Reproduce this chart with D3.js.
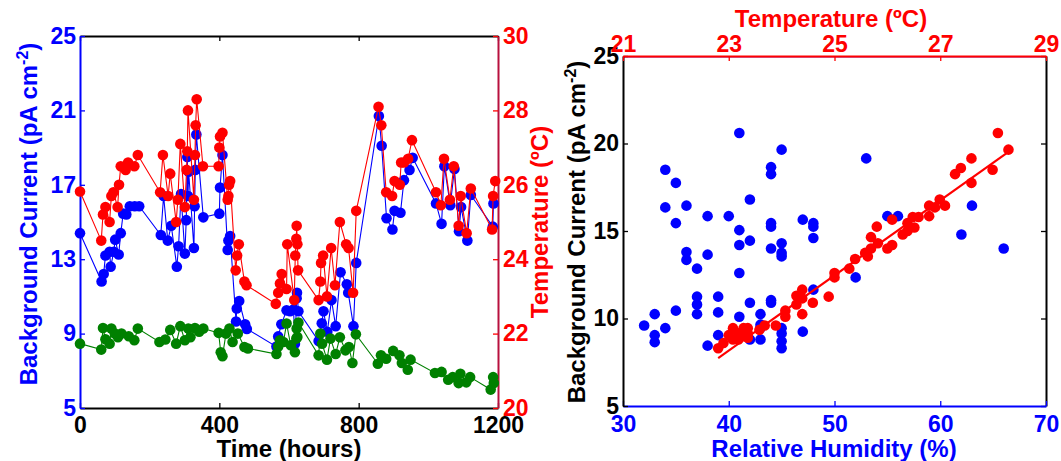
<!DOCTYPE html>
<html><head><meta charset="utf-8">
<script src="https://cdnjs.cloudflare.com/ajax/libs/d3/7.8.5/d3.min.js"></script>
<style>body{margin:0;background:#fff}</style>
</head><body><svg id="c" width="1061" height="461"></svg>
<script>
// ---------- Left chart data ----------
const timeTicks = [0, 400, 800, 1200];
const currentTicksLeft = [5, 9, 13, 17, 21, 25];
const tempTicksRight = [20, 22, 24, 26, 28, 30];

const bgTime = [0,62,68,73,85,88,97,101,111,117,124,133,143,157,170,232,240,252,262,278,283,290,301,305,308,310,312,327,329,331,334,354,400,402,409,424,426,431,448,450,457,474,479,564,569,578,593,603,613,617,622,623,627,685,694,699,710,722,734,748,766,770,785,793,858,866,880,897,903,920,930,946,955,1022,1038,1046,1063,1075,1088,1094,1112,1122,1185,1187];
const bgCurrent = [14.4,11.8,12.2,13.2,13.4,12.6,13.4,14.05,13.25,14.4,15.45,15.4,15.85,15.85,15.85,14.3,16.4,14.0,14.8,12.6,13.7,16.5,13.3,15.1,18.5,16.4,17.7,13.6,15.85,17.8,19.7,15.25,15.45,16.85,18.6,13.5,14.0,14.25,9.65,10.35,10.75,9.5,9.25,8.3,8.85,9.5,10.25,10.2,10.3,8.45,10.9,11.2,10.2,8.6,9.55,10.2,9.1,10.8,9.4,12.3,11.65,11.2,9.4,12.8,20.7,19.1,15.2,14.6,15.6,15.5,17.25,17.8,18.45,16.0,14.9,18.0,15.9,17.85,14.5,15.8,14.0,16.45,14.75,16.0];

const tempTime = [0,61,66,73,85,90,96,108,112,117,131,138,156,166,230,238,253,259,276,281,288,301,306,308,310,327,330,332,335,353,398,400,402,409,424,426,428,431,447,451,456,472,478,562,569,574,579,593,595,615,618,621,622,624,626,685,690,692,698,709,721,732,746,764,771,784,793,857,865,879,896,903,918,922,930,942,953,1022,1036,1045,1062,1073,1087,1093,1110,1122,1183,1186,1192];
const temperature = [25.82,24.5,25.2,25.4,25.0,25.7,25.8,25.4,26.0,26.5,26.4,26.6,26.5,26.8,25.8,26.8,25.7,26.3,25.0,25.6,27.1,25.4,26.4,26.9,28.0,25.6,26.8,27.6,28.3,26.5,26.5,27.0,27.3,27.4,25.6,25.7,26.0,26.1,23.7,24.1,24.4,23.4,23.3,22.8,23.1,23.35,23.6,23.2,24.4,22.9,24.1,24.55,24.9,24.4,23.7,22.9,23.4,23.9,24.1,23.0,24.3,23.3,25.0,24.4,24.3,23.1,25.3,28.1,27.6,25.8,25.7,26.1,26.0,26.6,26.6,26.7,27.2,25.8,25.45,26.7,25.6,26.5,24.9,25.7,24.7,25.9,24.8,25.7,26.1];

const greenTime = [0,61,66,73,85,90,100,109,119,140,156,166,228,245,259,276,288,301,311,317,330,342,354,398,404,409,419,429,438,453,472,482,564,569,574,584,593,605,617,621,622,624,627,685,690,695,709,719,734,746,762,772,782,792,855,864,879,899,917,924,941,949,1019,1038,1057,1070,1087,1092,1109,1120,1179,1186,1188];
const greenValues = [8.46,8.14,9.3,8.7,8.46,9.27,9.0,8.8,9.0,8.86,8.64,9.27,8.55,8.68,9.2,8.46,9.4,8.64,9.27,8.8,9.3,9.1,9.27,9.04,8.0,7.78,9.0,9.27,8.55,9.0,8.28,8.2,7.9,8.3,8.64,8.55,9.54,8.37,8.0,8.73,9.27,8.82,9.6,7.83,9.0,8.46,7.6,8.73,7.9,8.8,8.1,8.28,7.42,8.96,7.38,7.83,7.65,8.07,7.83,7.42,7.06,7.6,6.88,6.94,6.52,6.66,6.34,6.84,6.38,6.66,5.99,6.66,6.34];

// ---------- Right chart data ----------
const rhTicks = [30, 40, 50, 60, 70];
const tempTicksTop = [21, 23, 25, 27, 29];
const currentTicksRight = [5, 10, 15, 20, 25];

const rhBlue = [41,45,34,35,44,44,42,34,36,35,38,40,41,41,42,44,44,44,45,45,45,47,48,48,48,36,36,37,38,41,37,37,37,39,39,35,33,32,33,33,34,38,39,41,42,43,44,44,43,43,43,42,45,45,45,45,47,48,53,55,56,63,62,66,52];
const bgBlue = [20.6,19.65,18.5,17.75,18.65,18.25,16.8,16.35,16.45,15.45,15.85,15.85,15.05,14.2,14.45,15.45,15.25,14.0,14.3,13.75,13.55,15.65,15.45,15.25,14.6,13.8,13.35,12.85,13.65,12.6,11.25,10.8,10.25,11.25,10.35,10.45,10.25,9.6,9.05,8.65,9.45,8.45,9.05,10.1,10.9,10.25,11.05,10.9,9.65,9.45,8.8,8.8,9.45,9.15,8.7,8.3,9.25,11.65,19.15,15.85,15.85,16.45,14.8,14.0,12.35];

const tempRed = [22.8,22.9,23.0,23.08,23.08,23.18,23.18,23.28,23.28,23.36,23.36,23.36,23.58,23.68,23.89,24.07,24.07,24.28,24.28,24.39,24.39,24.39,24.59,24.89,25.0,25.0,25.28,25.39,25.58,25.63,25.69,25.69,25.8,25.82,26.0,26.09,26.09,26.29,26.38,26.38,26.48,26.51,26.59,26.79,26.79,26.9,26.99,27.09,27.28,27.39,27.59,27.59,27.99,28.09,28.29];
const bgRed = [8.3,8.6,9.05,9.45,8.8,9.15,8.8,9.45,9.0,9.45,9.15,8.9,9.35,9.6,9.6,10.45,10.1,11.3,10.8,11.65,11.15,10.25,10.9,11.25,12.6,12.35,12.85,13.4,13.75,13.55,14.0,14.65,15.25,14.3,14.0,14.2,15.65,14.8,15.45,15.0,15.8,15.2,15.8,16.45,15.85,16.35,16.8,16.45,18.25,18.6,19.15,17.75,18.5,20.6,19.65];

const fitSlope = 2.146;
const fitIntercept = -41.19;
const fitRange = [22.8, 28.29];

// ---------- Drawing ----------
const FONT = "Arial, 'Liberation Sans', Helvetica, sans-serif";
const BLUE = "#0000ff", RED = "#ff0000", GREEN = "#008000";
const svg = d3.select("#c");
const tickFS = 23, titleFS = 24, R_DOT = 5.3;
const fmt = d3.format("d");

function styleAxis(g, color, lineColor) {
  g.select("path.domain").attr("stroke", lineColor || color).attr("stroke-width", 2);
  g.selectAll(".tick line").attr("stroke", color).attr("stroke-width", 1.3);
  g.selectAll("text").attr("fill", color).style("font-size", tickFS + "px")
    .style("font-weight", "bold").style("font-family", FONT);
}
function title(x, y, rot, color, parts) {
  const t = svg.append("text").attr("transform", `translate(${x},${y}) rotate(${rot})`)
    .attr("text-anchor", "middle").attr("fill", color)
    .style("font-family", FONT).style("font-weight", "bold").style("font-size", titleFS + "px");
  parts.forEach(p => {
    const s = t.append("tspan").text(p.t);
    if (p.sup) s.attr("dy", -9).style("font-size", "16px");
    if (p.back) s.attr("dy", 9);
  });
}

// Left chart scales
const xL = d3.scaleLinear().domain([0, 1200]).range([80, 498]);
const yL = d3.scaleLinear().domain([5, 25]).range([408, 36]);
const yR = d3.scaleLinear().domain([20, 30]).range([408, 36]);

svg.append("g").attr("transform", "translate(0,36)")
  .call(d3.axisTop(xL).tickValues(timeTicks).tickSizeInner(-5).tickSizeOuter(0).tickFormat(() => ""))
  .call(g => styleAxis(g, "#000"));
svg.append("g").attr("transform", "translate(0,408)")
  .call(d3.axisBottom(xL).tickValues(timeTicks).tickSizeInner(-5).tickSizeOuter(0).tickPadding(9).tickFormat(fmt))
  .call(g => styleAxis(g, "#000"));
svg.append("g").attr("transform", "translate(498,0)")
  .call(d3.axisRight(yR).tickValues(tempTicksRight).tickSizeInner(-5).tickSizeOuter(0).tickPadding(5).tickFormat(fmt))
  .call(g => styleAxis(g, RED, "#b8103e"));
svg.append("g").attr("transform", "translate(80,0)")
  .call(d3.axisLeft(yL).tickValues(currentTicksLeft).tickSizeInner(-5).tickSizeOuter(0).tickPadding(4).tickFormat(fmt))
  .call(g => styleAxis(g, BLUE));

function series(times, vals, yScale, color) {
  const pts = times.map((t, i) => [t, vals[i]]);
  svg.append("path").datum(pts).attr("fill", "none").attr("stroke", color).attr("stroke-width", 1.1)
    .attr("d", d3.line().x(d => xL(d[0])).y(d => yScale(d[1])));
  svg.append("g").selectAll("circle").data(pts).join("circle")
    .attr("cx", d => xL(d[0])).attr("cy", d => yScale(d[1])).attr("r", R_DOT).attr("fill", color);
}
series(bgTime, bgCurrent, yL, BLUE);
series(greenTime, greenValues, yL, GREEN);
series(tempTime, temperature, yR, RED);

title(37, 214, -90, BLUE, [{t: "Background Current (pA cm"}, {t: "-2", sup: true}, {t: ")", back: true}]);
title(548, 222, -90, RED, [{t: "Temperature (ºC)"}]);
title(289, 457, 0, "#000", [{t: "Time (hours)"}]);

// Right chart scales
const xRH = d3.scaleLinear().domain([30, 70]).range([623, 1046]);
const xT = d3.scaleLinear().domain([21, 29]).range([623, 1046]);
const yB = d3.scaleLinear().domain([5, 25]).range([406, 56]);

svg.append("line").attr("x1", 623).attr("x2", 1046).attr("y1", 57.5).attr("y2", 57.5)
  .attr("stroke", "#b48ad8").attr("stroke-width", 1);
svg.append("g").attr("transform", "translate(1046,0)")
  .call(d3.axisRight(yB).tickValues(currentTicksRight).tickSizeInner(-5).tickSizeOuter(0).tickFormat(() => ""))
  .call(g => styleAxis(g, "#000"));
svg.append("g").attr("transform", "translate(0,406)")
  .call(d3.axisBottom(xRH).tickValues(rhTicks).tickSizeInner(-5).tickSizeOuter(0).tickPadding(10).tickFormat(fmt))
  .call(g => styleAxis(g, BLUE));
svg.append("g").attr("transform", "translate(623,0)")
  .call(d3.axisLeft(yB).tickValues(currentTicksRight).tickSizeInner(-5).tickSizeOuter(0).tickPadding(4).tickFormat(fmt))
  .call(g => styleAxis(g, "#000"));
svg.append("g").attr("transform", "translate(0,56)")
  .call(d3.axisTop(xT).tickValues(tempTicksTop).tickSizeInner(-5).tickSizeOuter(0).tickPadding(4).tickFormat(fmt))
  .call(g => styleAxis(g, RED));

svg.append("g").selectAll("circle").data(rhBlue.map((v, i) => [v, bgBlue[i]])).join("circle")
  .attr("cx", d => xRH(d[0])).attr("cy", d => yB(d[1])).attr("r", R_DOT).attr("fill", BLUE);
svg.append("g").selectAll("circle").data(tempRed.map((v, i) => [v, bgRed[i]])).join("circle")
  .attr("cx", d => xT(d[0])).attr("cy", d => yB(d[1])).attr("r", R_DOT).attr("fill", RED);
svg.append("path").datum(fitRange).attr("fill", "none").attr("stroke", RED).attr("stroke-width", 2.2)
  .attr("d", d3.line().x(d => xT(d)).y(d => yB(fitSlope * d + fitIntercept)));

title(585, 232, -90, "#000", [{t: "Background Current (pA cm"}, {t: "-2", sup: true}, {t: ")", back: true}]);
title(831, 27, 0, RED, [{t: "Temperature (ºC)"}]);
title(834, 457, 0, BLUE, [{t: "Relative Humidity (%)"}]);
</script>
</body></html>
